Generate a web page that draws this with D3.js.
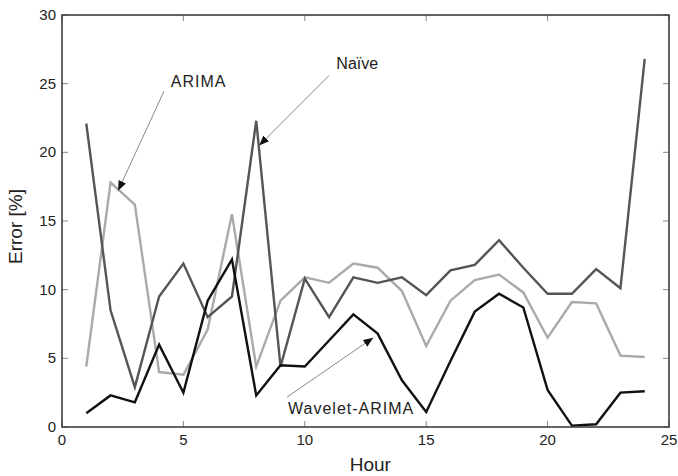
<!DOCTYPE html>
<html>
<head>
<meta charset="utf-8">
<script src="https://cdn.jsdelivr.net/npm/d3@7"></script>
<style>
  body { margin: 0; background: #fff; }
  text { font-family: "Liberation Sans", Arial, sans-serif; fill: #222; }
</style>
</head>
<body>
<div id="my_dataviz"></div>
<script>
// hours on the x axis
var hours = [1, 2, 3, 4, 5, 6, 7, 8, 9, 10, 11, 12, 13, 14, 15, 16, 17, 18, 19, 20, 21, 22, 23, 24];

// error [%]
var naive = [22.1, 8.5, 2.9, 9.5, 11.9, 8.0, 9.5, 22.3, 4.4, 10.8, 8.0, 10.9, 10.5, 10.9, 9.6, 11.4, 11.8, 13.6, 11.6, 9.7, 9.7, 11.5, 10.1, 26.8];
var arima = [4.4, 17.8, 16.2, 4.0, 3.8, 7.1, 15.5, 4.4, 9.2, 10.9, 10.5, 11.9, 11.6, 9.9, 5.9, 9.2, 10.7, 11.1, 9.8, 6.5, 9.1, 9.0, 5.2, 5.1];
var waveletArima = [1.0, 2.3, 1.8, 6.0, 2.5, 9.2, 12.2, 2.3, 4.5, 4.4, 6.3, 8.2, 6.8, 3.4, 1.1, 4.8, 8.4, 9.7, 8.7, 2.7, 0.1, 0.2, 2.5, 2.6];

var xTicks = [0, 5, 10, 15, 20, 25];
var yTicks = [0, 5, 10, 15, 20, 25, 30];

var series = [
    {name: "ARIMA", values: arima, color: "#aaaaaa"},
    {name: "Naïve", values: naive, color: "#555555"},
    {name: "Wavelet-ARIMA", values: waveletArima, color: "#111111"}
];

// annotation labels and arrows, in data units
var notes = [
    {text: "ARIMA", tx: 5.63, ty: 25.2, x1: 4.2, y1: 24.45, x2: 2.31, y2: 17.2},
    {text: "Naïve", tx: 12.16, ty: 26.5, x1: 11.0, y1: 25.6, x2: 8.12, y2: 20.5},
    {text: "Wavelet-ARIMA", tx: 11.91, ty: 1.4, x1: 9.27, y1: 2.18, x2: 12.82, y2: 6.5}
];

var margin = {top: 15, right: 9, bottom: 49, left: 62},
    width = 678 - margin.left - margin.right,
    height = 476 - margin.top - margin.bottom;

var svg = d3.select("#my_dataviz")
    .append("svg")
    .attr("width", width + margin.left + margin.right)
    .attr("height", height + margin.top + margin.bottom)
    .append("g")
    .attr("transform", "translate(" + margin.left + "," + margin.top + ")");

var x = d3.scaleLinear().domain([0, 25]).range([0, width]);
var y = d3.scaleLinear().domain([0, 30]).range([height, 0]);

// arrow head
svg.append("defs").append("marker")
    .attr("id", "head")
    .attr("viewBox", "0 0 10 10")
    .attr("refX", 10).attr("refY", 5)
    .attr("markerWidth", 10).attr("markerHeight", 10)
    .attr("markerUnits", "userSpaceOnUse")
    .attr("orient", "auto")
    .append("path")
    .attr("d", "M0,1 L10,5 L0,9 Z")
    .attr("fill", "#111");

// inner ticks on all four sides
var tl = 6;
svg.selectAll("xtb").data(xTicks).enter().append("line")
    .attr("x1", function (d) { return x(d) }).attr("x2", function (d) { return x(d) })
    .attr("y1", height).attr("y2", height - tl)
    .attr("stroke", "#888").attr("stroke-width", 1);
svg.selectAll("xtt").data(xTicks).enter().append("line")
    .attr("x1", function (d) { return x(d) }).attr("x2", function (d) { return x(d) })
    .attr("y1", 0).attr("y2", tl)
    .attr("stroke", "#888").attr("stroke-width", 1);
svg.selectAll("ytl").data(yTicks).enter().append("line")
    .attr("x1", 0).attr("x2", tl)
    .attr("y1", function (d) { return y(d) }).attr("y2", function (d) { return y(d) })
    .attr("stroke", "#888").attr("stroke-width", 1);
svg.selectAll("ytr").data(yTicks).enter().append("line")
    .attr("x1", width).attr("x2", width - tl)
    .attr("y1", function (d) { return y(d) }).attr("y2", function (d) { return y(d) })
    .attr("stroke", "#888").attr("stroke-width", 1);

// tick labels
svg.selectAll("xlab").data(xTicks).enter().append("text")
    .attr("x", function (d) { return x(d) })
    .attr("y", height + 18)
    .attr("text-anchor", "middle")
    .attr("font-size", "15px")
    .text(function (d) { return d });
svg.selectAll("ylab").data(yTicks).enter().append("text")
    .attr("x", -6)
    .attr("y", function (d) { return y(d) + 5 })
    .attr("text-anchor", "end")
    .attr("font-size", "15px")
    .text(function (d) { return d });

// axis titles
svg.append("text")
    .attr("x", x(12.7)).attr("y", height + 44)
    .attr("text-anchor", "middle")
    .attr("font-size", "19px")
    .text("Hour");
svg.append("text")
    .attr("transform", "translate(" + (-40) + "," + y(14.6) + ") rotate(-90)")
    .attr("text-anchor", "middle")
    .attr("font-size", "19px")
    .text("Error [%]");

// the lines
var line = d3.line()
    .x(function (d, i) { return x(hours[i]) })
    .y(function (d) { return y(d) });

svg.selectAll("series").data(series).enter().append("path")
    .attr("d", function (d) { return line(d.values) })
    .attr("fill", "none")
    .attr("stroke", function (d) { return d.color })
    .attr("stroke-width", 2.4)
    .attr("stroke-linejoin", "miter");

// frame
svg.append("rect")
    .attr("x", 0).attr("y", 0)
    .attr("width", width).attr("height", height)
    .attr("fill", "none")
    .attr("stroke", "#333")
    .attr("stroke-width", 1.5);

// annotations
svg.selectAll("arrows").data(notes).enter().append("line")
    .attr("x1", function (d) { return x(d.x1) }).attr("y1", function (d) { return y(d.y1) })
    .attr("x2", function (d) { return x(d.x2) }).attr("y2", function (d) { return y(d.y2) })
    .attr("stroke", "#888").attr("stroke-width", 1)
    .attr("marker-end", "url(#head)");
svg.selectAll("notes").data(notes).enter().append("text")
    .attr("x", function (d) { return x(d.tx) })
    .attr("y", function (d) { return y(d.ty) + 6 })
    .attr("text-anchor", "middle")
    .attr("font-size", "16px")
    .attr("letter-spacing", function (d) { return d.text == "Naïve" ? "0px" : "1px" })
    .text(function (d) { return d.text });
</script>
</body>
</html>
